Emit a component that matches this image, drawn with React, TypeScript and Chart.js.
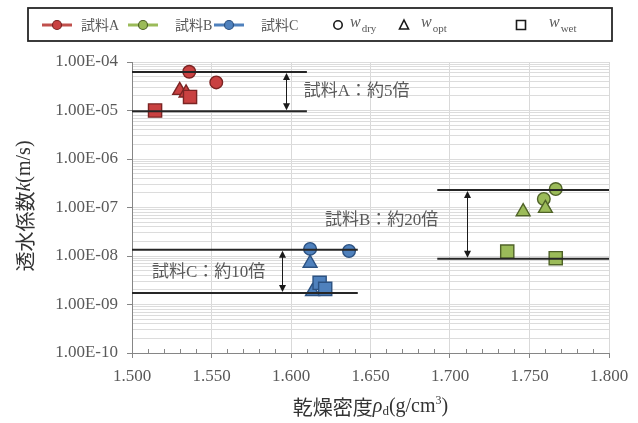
import React, { useEffect, useRef } from 'react';
import { Chart, registerables } from 'chart.js';

Chart.register(...registerables);

// ---------- axis ticks ----------
const xTickValues = [1.5, 1.55, 1.6, 1.65, 1.7, 1.75, 1.8];
const xTickLabels = ['1.500', '1.550', '1.600', '1.650', '1.700', '1.750', '1.800'];
const xMinorTickValues = [
  1.51, 1.52, 1.53, 1.54, 1.56, 1.57, 1.58, 1.59, 1.61, 1.62, 1.63, 1.64,
  1.66, 1.67, 1.68, 1.69, 1.71, 1.72, 1.73, 1.74, 1.76, 1.77, 1.78, 1.79,
];
const yDecadeExponents = [-10, -9, -8, -7, -6, -5, -4];
const yTickLabels = ['1.00E-10', '1.00E-09', '1.00E-08', '1.00E-07', '1.00E-06', '1.00E-05', '1.00E-04'];
const yMinorMultipliers = [2, 3, 4, 5, 6, 7, 8, 9];

// ---------- series (dry density, permeability k) ----------
const sampleNames = ['試料A', '試料B', '試料C'];
const aDryX = [1.536, 1.553];
const aDryK = [6.3e-5, 3.8e-5];
const aOptX = [1.530, 1.534];
const aOptK = [2.6e-5, 2.3e-5];
const aWetX = [1.5365, 1.5145];
const aWetK = [1.9e-5, 1.0e-5];

const bDryX = [1.7665, 1.759];
const bDryK = [2.4e-7, 1.5e-7];
const bOptX = [1.746, 1.76];
const bOptK = [8.2e-8, 9.6e-8];
const bWetX = [1.736, 1.7665];
const bWetK = [1.23e-8, 9.0e-9];

const cDryX = [1.612, 1.6365];
const cDryK = [1.4e-8, 1.27e-8];
const cOptX = [1.612, 1.6135];
const cOptK = [7.1e-9, 1.85e-9];
const cWetX = [1.618, 1.6215];
const cWetK = [2.8e-9, 2.1e-9];

// ---------- range lines, arrows and notes ----------
const rangeAX = [1.5, 1.61];
const rangeAK = [6.2e-5, 9.6e-6];
const rangeBX = [1.692, 1.8];
const rangeBK = [2.3e-7, 8.8e-9];
const rangeCX = [1.5, 1.642];
const rangeCK = [1.35e-8, 1.72e-9];
const arrowX = [1.597, 1.711, 1.5945];
const noteTexts = ['試料A：約5倍', '試料B：約20倍', '試料C：約10倍'];
const noteX = [1.608, 1.6214, 1.5126];
const noteK = [2.5e-5, 5.5e-8, 4.5e-9];

// ---------- styles ----------
const SERIF = '"Liberation Serif", "Times New Roman", "Noto Sans CJK JP", serif';
const CJK = '"Noto Sans CJK JP", "Liberation Serif", sans-serif';
const fills = ['#c94141', '#9bbb59', '#4f81bd'];
const borders = ['#7a2423', '#4f6228', '#2c5282'];
const legendLine = ['#c0504d', '#9bbb59', '#4f81bd'];
const textGray = '#595959';

const pts = (xs: number[], ks: number[]) => xs.map((x, i) => ({ x, y: ks[i] }));

const isDecade = (v: number) => Math.abs(Math.log10(v) - Math.round(Math.log10(v))) < 1e-6;

function markerDataset(xs: number[], ks: number[], s: number, style: string) {
  const radius = style === 'circle' ? 6.3 : style === 'triangle' ? 8 : 9.3;
  return {
    type: 'scatter' as const,
    data: pts(xs, ks),
    pointStyle: style,
    pointRadius: radius,
    pointHoverRadius: radius,
    backgroundColor: fills[s],
    borderColor: borders[s],
    pointBorderWidth: 1.4,
    borderWidth: 1.4,
    showLine: false,
    order: 2,
  };
}

function rangeDatasets(xs: number[], ks: number[]) {
  return ks.map((k) => ({
    type: 'line' as const,
    data: [
      { x: xs[0], y: k },
      { x: xs[1], y: k },
    ],
    borderColor: '#262626',
    borderWidth: 2,
    pointRadius: 0,
    showLine: true,
    fill: false,
    order: 1,
  }));
}

function drawParts(
  ctx: CanvasRenderingContext2D,
  parts: { t: string; f: string; dy?: number }[],
  cx: number,
  cy: number,
) {
  let total = 0;
  for (const p of parts) {
    ctx.font = p.f;
    total += ctx.measureText(p.t).width;
  }
  let x = cx - total / 2;
  for (const p of parts) {
    ctx.font = p.f;
    ctx.fillText(p.t, x, cy + (p.dy || 0));
    x += ctx.measureText(p.t).width;
  }
}

const overlayPlugin = {
  id: 'overlay',
  afterDatasetsDraw(chart: any) {
    const ctx: CanvasRenderingContext2D = chart.ctx;
    const xs = chart.scales.x;
    const ys = chart.scales.y;
    const ranges = [rangeAK, rangeBK, rangeCK];
    ctx.save();
    // arrows
    ctx.strokeStyle = '#1a1a1a';
    ctx.fillStyle = '#1a1a1a';
    ctx.lineWidth = 1;
    arrowX.forEach((ax, i) => {
      const px = Math.round(xs.getPixelForValue(ax)) + 0.5;
      const yTop = ys.getPixelForValue(ranges[i][0]) + 1;
      const yBot = ys.getPixelForValue(ranges[i][1]) - 1;
      ctx.beginPath();
      ctx.moveTo(px, yTop + 5);
      ctx.lineTo(px, yBot - 5);
      ctx.stroke();
      ctx.beginPath();
      ctx.moveTo(px, yTop);
      ctx.lineTo(px - 3.5, yTop + 7);
      ctx.lineTo(px + 3.5, yTop + 7);
      ctx.closePath();
      ctx.fill();
      ctx.beginPath();
      ctx.moveTo(px, yBot);
      ctx.lineTo(px - 3.5, yBot - 7);
      ctx.lineTo(px + 3.5, yBot - 7);
      ctx.closePath();
      ctx.fill();
    });
    // notes
    ctx.fillStyle = textGray;
    ctx.font = `17px ${SERIF}`;
    ctx.textAlign = 'left';
    ctx.textBaseline = 'middle';
    noteTexts.forEach((t, i) => {
      ctx.fillText(t, xs.getPixelForValue(noteX[i]), ys.getPixelForValue(noteK[i]));
    });
    ctx.restore();
  },
  afterDraw(chart: any) {
    const ctx: CanvasRenderingContext2D = chart.ctx;
    const xs = chart.scales.x;
    const area = chart.chartArea;
    ctx.save();
    // minor x ticks (inward)
    ctx.strokeStyle = '#868686';
    ctx.lineWidth = 1;
    xMinorTickValues.forEach((v) => {
      const px = Math.round(xs.getPixelForValue(v)) + 0.5;
      ctx.beginPath();
      ctx.moveTo(px, area.bottom);
      ctx.lineTo(px, area.bottom - 4);
      ctx.stroke();
    });

    // legend box
    ctx.strokeStyle = '#262626';
    ctx.lineWidth = 1.8;
    ctx.strokeRect(28, 8, 584, 33);
    const ly = 25;
    const lineStarts = [42, 128, 214];
    const textStarts = [81, 175, 261];
    ctx.textBaseline = 'middle';
    ctx.textAlign = 'left';
    for (let s = 0; s < 3; s++) {
      ctx.strokeStyle = legendLine[s];
      ctx.lineWidth = 3;
      ctx.beginPath();
      ctx.moveTo(lineStarts[s], ly);
      ctx.lineTo(lineStarts[s] + 30, ly);
      ctx.stroke();
      ctx.beginPath();
      ctx.arc(lineStarts[s] + 15, ly, 4.5, 0, Math.PI * 2);
      ctx.fillStyle = fills[s];
      ctx.fill();
      ctx.strokeStyle = borders[s];
      ctx.lineWidth = 1.2;
      ctx.stroke();
      ctx.fillStyle = textGray;
      ctx.font = `14px ${SERIF}`;
      ctx.fillText(sampleNames[s], textStarts[s], ly + 1);
    }
    // open markers
    ctx.strokeStyle = '#1a1a1a';
    ctx.fillStyle = '#ffffff';
    ctx.lineWidth = 1.6;
    ctx.beginPath();
    ctx.arc(338, ly, 4.2, 0, Math.PI * 2);
    ctx.fill();
    ctx.stroke();
    ctx.beginPath();
    ctx.moveTo(404, ly - 5);
    ctx.lineTo(408.5, ly + 4);
    ctx.lineTo(399.5, ly + 4);
    ctx.closePath();
    ctx.fill();
    ctx.stroke();
    ctx.beginPath();
    ctx.rect(516.5, ly - 4.5, 9, 9);
    ctx.fill();
    ctx.stroke();
    const subs = ['dry', 'opt', 'wet'];
    const wStarts = [350, 421, 549];
    ctx.fillStyle = textGray;
    subs.forEach((sub, i) => {
      ctx.font = `italic 16px ${SERIF}`;
      ctx.fillText('w', wStarts[i], ly - 2);
      const w = ctx.measureText('w').width;
      ctx.font = `11px ${SERIF}`;
      ctx.fillText(sub, wStarts[i] + w + 1, ly + 4);
    });

    // axis titles
    ctx.fillStyle = '#333333';
    ctx.textBaseline = 'middle';
    ctx.textAlign = 'left';
    ctx.save();
    ctx.translate(25, 206);
    ctx.rotate(-Math.PI / 2);
    drawParts(
      ctx,
      [
        { t: '透水係数', f: `20px ${CJK}` },
        { t: 'k', f: `italic 20px ${SERIF}` },
        { t: '(m/s)', f: `20px ${SERIF}` },
      ],
      0,
      0,
    );
    ctx.restore();
    drawParts(
      ctx,
      [
        { t: '乾燥密度', f: `20px ${CJK}` },
        { t: 'ρ', f: `italic 20px ${SERIF}` },
        { t: 'd', f: `13px ${SERIF}`, dy: 5 },
        { t: '(g/cm', f: `20px ${SERIF}` },
        { t: '3', f: `12px ${SERIF}`, dy: -6 },
        { t: ')', f: `20px ${SERIF}` },
      ],
      (area.left + area.right) / 2,
      407,
    );
    ctx.restore();
  },
};

export default function App() {
  const ref = useRef<HTMLCanvasElement>(null);
  useEffect(() => {
    if (!ref.current) return;
    const yAllTicks: number[] = [];
    yDecadeExponents.forEach((e, i) => {
      yAllTicks.push(Math.pow(10, e));
      if (i < yDecadeExponents.length - 1) {
        yMinorMultipliers.forEach((m) => yAllTicks.push(m * Math.pow(10, e)));
      }
    });
    const datasets: any[] = [
      ...rangeDatasets(rangeAX, rangeAK),
      ...rangeDatasets(rangeBX, rangeBK),
      ...rangeDatasets(rangeCX, rangeCK),
      markerDataset(aWetX, aWetK, 0, 'rect'),
      markerDataset(aOptX, aOptK, 0, 'triangle'),
      markerDataset(aDryX, aDryK, 0, 'circle'),
      markerDataset(bWetX, bWetK, 1, 'rect'),
      markerDataset(bOptX, bOptK, 1, 'triangle'),
      markerDataset(bDryX, bDryK, 1, 'circle'),
      markerDataset(cWetX, cWetK, 2, 'rect'),
      markerDataset(cOptX, cOptK, 2, 'triangle'),
      markerDataset(cDryX, cDryK, 2, 'circle'),
    ];
    const chart = new Chart(ref.current, {
      type: 'scatter',
      data: { datasets },
      options: {
        responsive: false,
        animation: false,
        devicePixelRatio: 1,
        layout: { padding: { top: 62, right: 29, bottom: 0, left: 0 } },
        plugins: { legend: { display: false }, tooltip: { enabled: false } },
        scales: {
          x: {
            type: 'linear',
            position: 'bottom',
            min: 1.5,
            max: 1.8,
            afterFit: (s: any) => {
              s.height = 70;
            },
            afterBuildTicks: (s: any) => {
              s.ticks = xTickValues.map((v) => ({ value: v }));
            },
            ticks: {
              autoSkip: false,
              maxRotation: 0,
              padding: 8,
              color: textGray,
              font: { family: SERIF, size: 17 },
              callback: (v: any) => {
                const i = xTickValues.findIndex((t) => Math.abs(t - Number(v)) < 1e-9);
                return i >= 0 ? xTickLabels[i] : '';
              },
            },
            grid: { color: '#d9d9d9', tickLength: 5, tickColor: '#868686' },
            border: { color: '#868686', width: 1 },
          },
          y: {
            type: 'logarithmic',
            min: 1e-10,
            max: 1e-4,
            afterFit: (s: any) => {
              s.width = 132;
            },
            afterBuildTicks: (s: any) => {
              s.ticks = yAllTicks.map((v) => ({ value: v }));
            },
            ticks: {
              autoSkip: false,
              padding: 9,
              color: textGray,
              font: { family: SERIF, size: 17 },
              callback: (v: any) => {
                const val = Number(v);
                if (!isDecade(val)) return '';
                const e = Math.round(Math.log10(val));
                const i = yDecadeExponents.indexOf(e);
                return i >= 0 ? yTickLabels[i] : '';
              },
            },
            grid: {
              color: '#dcdcdc',
              tickLength: 5,
              tickColor: (c: any) => (c.tick && isDecade(c.tick.value) ? '#868686' : 'rgba(0,0,0,0)'),
            },
            border: { color: '#868686', width: 1 },
          },
        },
      },
      plugins: [overlayPlugin],
    } as any);
    return () => chart.destroy();
  }, []);
  return (
    <div style={{ position: 'fixed', left: 0, top: 0, width: 638, height: 423, background: '#ffffff' }}>
      <canvas ref={ref} width={638} height={423} style={{ display: 'block', width: 638, height: 423 }} />
    </div>
  );
}
